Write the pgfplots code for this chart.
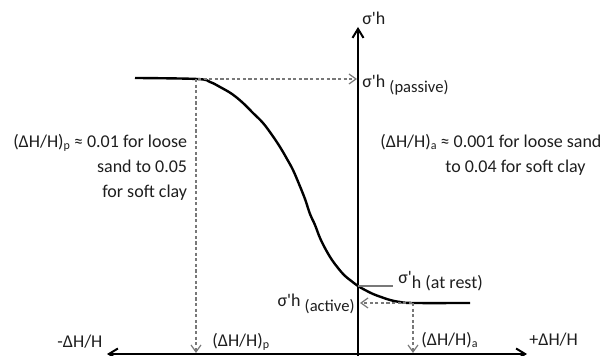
\documentclass[border=0pt]{standalone}
\usepackage{fontspec}
\setmainfont{Carlito}
\usepackage{pgfplots}
\pgfplotsset{compat=1.18}
\usetikzlibrary{arrows.meta}
\newcommand\sub[1]{\raisebox{-0.55ex}{\fontsize{8.3}{8.3}\selectfont #1}}
\newcommand\q{\textquotesingle}
\definecolor{txt}{HTML}{1E1E1E}
\definecolor{guidegray}{HTML}{787878}
\tikzset{lbl/.style={text=txt, font=\fontsize{9}{12.5}\selectfont, inner sep=0pt}}
\begin{document}
\begin{tikzpicture}
\begin{axis}[name=ax,
  scale only axis, width=305.5pt, height=178pt,
  xmin=0, xmax=611, ymin=0, ymax=356,
  hide axis, clip=true,
]
% axes
\addplot[black, line width=1pt, -{Straight Barb[length=4.5pt,width=5.5pt,line width=1pt]}] coordinates {(358,0) (358,329)};
\addplot[black, line width=1pt, {Straight Barb[length=4.5pt,width=5.5pt,line width=1pt]}-{Straight Barb[length=4.5pt,width=5.5pt,line width=1pt]}] coordinates {(107,2) (527,2)};
% curve
\addplot[black, line width=1.2pt, smooth, tension=0.6] coordinates {
(135,278) (197,277) (210,274) (220,269) (232,262) (243,253) (253,243) (263,233)
(272,221) (280,209) (287,197) (293,186) (299,172) (305,157) (310,142) (315,131)
(320,118) (326,106) (332,96) (338,88) (344,81) (350,76) (358,70) (365,66)
(373,62) (381,59) (390,56) (400,54) (413,53) (470,53)};
% dashed guides
\addplot[guidegray, line width=0.7pt, dash pattern=on 1.6pt off 1.2pt, -{Straight Barb[length=3.5pt,width=5pt,line width=0.6pt]}] coordinates {(198,277) (357,277)};
\addplot[guidegray, line width=0.7pt, dash pattern=on 1.6pt off 1.2pt, -{Straight Barb[length=3.5pt,width=5pt,line width=0.6pt]}] coordinates {(196,277) (196,3)};
\addplot[guidegray, line width=0.7pt, dash pattern=on 1.6pt off 1.2pt, -{Straight Barb[length=3.5pt,width=5pt,line width=0.6pt]}] coordinates {(412,53) (360,53)};
\addplot[guidegray, line width=0.7pt, dash pattern=on 1.6pt off 1.2pt, -{Straight Barb[length=3.5pt,width=5pt,line width=0.6pt]}] coordinates {(413,53) (413,3)};
\addplot[guidegray, line width=0.8pt] coordinates {(358,70) (393,70)};
% labels
\node[lbl, anchor=west] at (axis cs:362,338) {σ\q h};
\node[lbl, anchor=base west] at (axis cs:362,268) {σ\q h \sub{(passive)}};
\node[lbl, anchor=east, align=right] at (axis cs:187.5,189) {(ΔH/H)\textsubscript{p}\,≈ 0.01 for loose\\sand to 0.05\\for soft clay};
\node[lbl, anchor=west] at (axis cs:380,214) {(ΔH/H)\textsubscript{a}\,≈ 0.001 for loose sand};
\node[lbl, anchor=west] at (axis cs:445,188) {to 0.04 for soft clay};
\node[lbl, anchor=base west] at (axis cs:398,72) {σ\q\raisebox{-0.55ex}{h (at rest)}};
\node[lbl, anchor=base east] at (axis cs:355,49) {σ\q h \sub{(active)}};
\node[lbl, anchor=west] at (axis cs:57,14) {-ΔH/H};
\node[lbl, anchor=west] at (axis cs:212,14) {(ΔH/H)\textsubscript{p}};
\node[lbl, anchor=west] at (axis cs:421,16) {(ΔH/H)\textsubscript{a}};
\node[lbl, anchor=west] at (axis cs:529,16) {+ΔH/H};
\end{axis}
\pgfresetboundingbox
\useasboundingbox (ax.south west) rectangle (ax.north east);
\end{tikzpicture}
\end{document}
